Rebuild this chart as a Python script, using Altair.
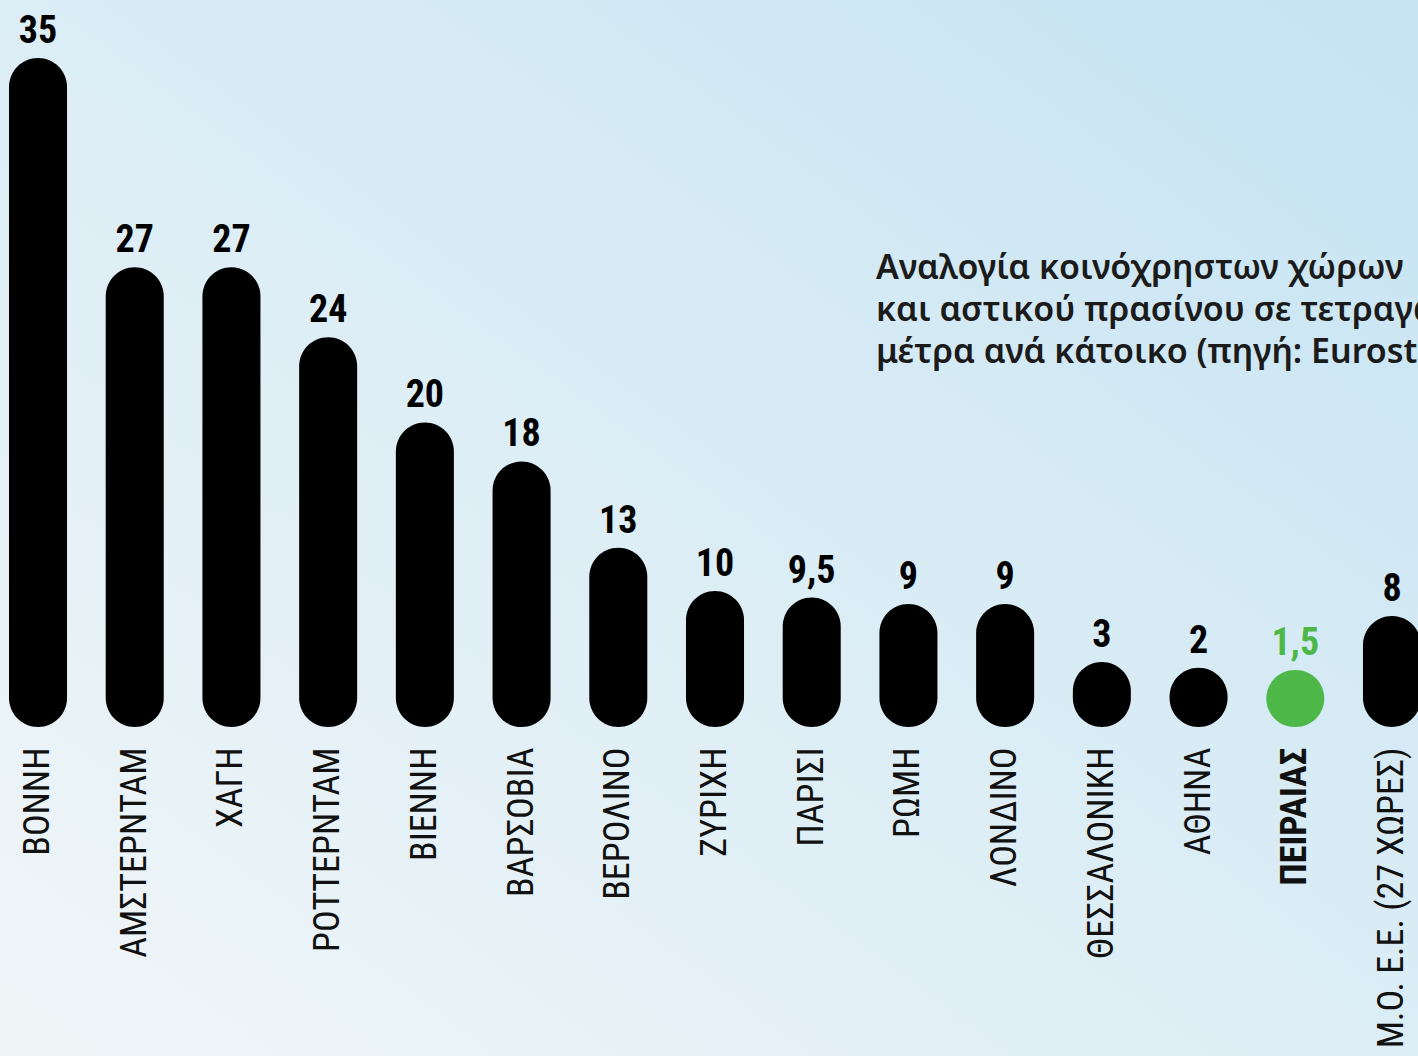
import altair as alt
import pandas as pd

cities = ["ΒΟΝΝΗ", "ΑΜΣΤΕΡΝΤΑΜ", "ΧΑΓΗ", "ΡΟΤΤΕΡΝΤΑΜ", "ΒΙΕΝΝΗ", "ΒΑΡΣΟΒΙΑ",
          "ΒΕΡΟΛΙΝΟ", "ΖΥΡΙΧΗ", "ΠΑΡΙΣΙ", "ΡΩΜΗ", "ΛΟΝΔΙΝΟ", "ΘΕΣΣΑΛΟΝΙΚΗ",
          "ΑΘΗΝΑ", "ΠΕΙΡΑΙΑΣ", "Μ.Ο. Ε.Ε. (27 ΧΩΡΕΣ)"]
values = [35, 27, 27, 24, 20, 18, 13, 10, 9.5, 9, 9, 3, 2, 1.5, 8]
highlight = "ΠΕΙΡΑΙΑΣ"
note_lines = ["Αναλογία κοινόχρηστων χώρων",
              "και αστικού πρασίνου σε τετραγωνικά",
              "μέτρα ανά κάτοικο (πηγή: Eurostat)"]

df = pd.DataFrame({
    "city": cities,
    "value": values,
    "label": [f"{v:g}".replace(".", ",") for v in values],
    "hl": ["yes" if c == highlight else "no" for c in cities],
})

W, H = 1409, 669
BASE = -7.55
NARROW = "Roboto Condensed, Liberation Sans Narrow, DejaVu Sans Condensed, sans-serif"

xscale = alt.Scale(domain=cities, range=[0, 1412], paddingInner=0.4, paddingOuter=0)
yscale = alt.Scale(type="pow", exponent=1.6, domain=[BASE, 35], nice=False, zero=False)
color = alt.Color("hl:N", scale=alt.Scale(domain=["no", "yes"], range=["#000000", "#4db848"]), legend=None)

bg = alt.Chart(pd.DataFrame({"k": [0]})).mark_rect(
    fill=alt.LinearGradient(
        gradient="linear", x1=1, y1=0, x2=0, y2=1,
        stops=[alt.GradientStop(offset=0, color="#c5e3f3"),
               alt.GradientStop(offset=0.45, color="#d9ecf5"),
               alt.GradientStop(offset=1, color="#f1f6f8")]),
).encode(x=alt.value(-9), x2=alt.value(W + 20), y=alt.value(-58), y2=alt.value(1000))

bars = alt.Chart(df).mark_bar(cornerRadius=29).encode(
    x=alt.X("city:N", scale=xscale, sort=cities, title=None,
            axis=alt.Axis(labelAngle=-90, labelAlign="right", labelBaseline="middle",
                          labelPadding=20, domain=False, ticks=False, labelLimit=1000,
                          labelOverlap=False, labelFont=NARROW, labelFontSize=36,
                          labelColor="#111111", zindex=2,
                          labelFontWeight=alt.ExprRef(expr="datum.value == 'ΠΕΙΡΑΙΑΣ' ? 'bold' : 'normal'"))),
    y=alt.Y("value:Q", scale=yscale, axis=None),
    y2=alt.datum(BASE),
    color=color,
)

labels = alt.Chart(df).mark_text(
    font=NARROW, fontSize=38, fontWeight="bold", baseline="alphabetic", dy=-15
).encode(
    x=alt.X("city:N", scale=xscale, sort=cities),
    y=alt.Y("value:Q", scale=yscale),
    text="label:N",
    color=color,
)

note = alt.Chart(pd.DataFrame({"k": [0]})).mark_text(
    text=note_lines, align="left", baseline="alphabetic", font="Noto Sans",
    fontSize=34, fontWeight=600, lineHeight=42, color="#1b1b1b"
).encode(x=alt.value(867), y=alt.value(221))

chart = alt.layer(bg, bars, labels, note).properties(
    width=W, height=H,
    autosize=alt.AutoSizeParams(type="none"),
    padding={"left": 9, "top": 58, "right": 0, "bottom": 329},
    background="#e3f0f6",
).configure_view(stroke=None)

chart.save("out.html", embed_options={"renderer": "svg", "actions": False})
